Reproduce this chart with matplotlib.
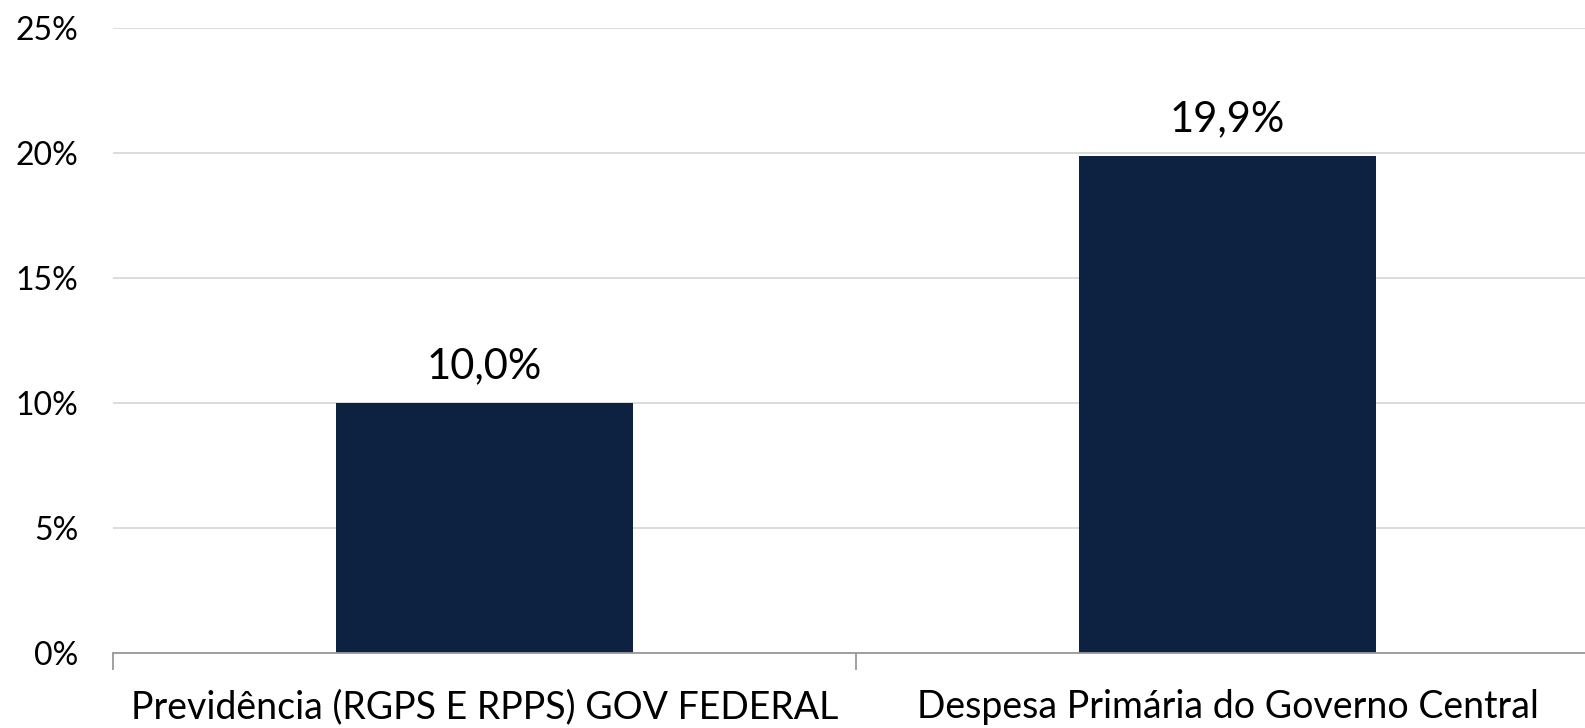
import matplotlib.pyplot as plt
from matplotlib.ticker import FuncFormatter, FixedLocator

plt.rcParams['font.family'] = ['Lato', 'DejaVu Sans']

categorias = ['Previdência (RGPS E RPPS) GOV FEDERAL', 'Despesa Primária do Governo Central']
valores = [10.0, 19.9]
rotulos = ['10,0%', '19,9%']

fig = plt.figure(figsize=(15.85, 7.28), dpi=100)
ax = fig.add_axes([113 / 1585, 1 - 653 / 728, 1486 / 1585, (653 - 28) / 728])

x = range(len(categorias))
ax.bar(x, valores, width=0.4, color='#0d2240', zorder=3)
for xi, v, r in zip(x, valores, rotulos):
    ax.text(xi, v + 0.7, r, ha='center', va='bottom', fontsize=30, color='black')

ax.set_xlim(-0.5, 1.5)
ax.set_ylim(0, 25)
ax.set_yticks([0, 5, 10, 15, 20, 25])
ax.yaxis.set_major_formatter(FuncFormatter(lambda v, p: f'{v:.0f}%'))
ax.grid(axis='y', color='#d9d9d9', linewidth=1.3, zorder=0)

ax.set_xticks(list(x))
ax.set_xticklabels(categorias, fontsize=27)
ax.xaxis.set_minor_locator(FixedLocator([-0.5, 0.5, 1.5]))
ax.tick_params(axis='x', which='major', length=0, pad=26)
ax.tick_params(axis='x', which='minor', length=12, color='#999999', width=1.3)
ax.tick_params(axis='y', length=0, labelsize=23, pad=25)

for s in ['top', 'right', 'left']:
    ax.spines[s].set_visible(False)
ax.spines['bottom'].set_color('#999999')
ax.spines['bottom'].set_linewidth(1.3)
ax.spines['bottom'].set_zorder(4)

fig.savefig('out.png', dpi=100)
